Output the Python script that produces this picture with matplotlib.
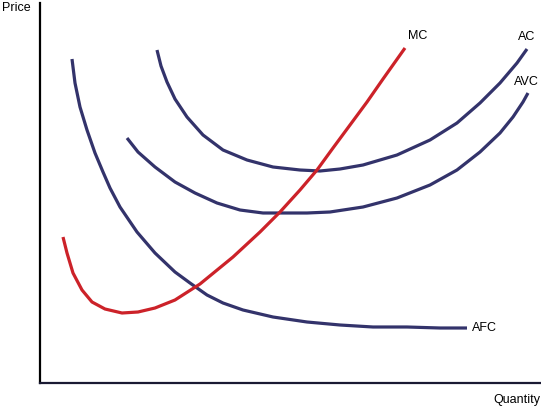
import matplotlib
matplotlib.use("Agg")
import matplotlib.pyplot as plt

plt.rcParams["font.family"] = ["Liberation Sans", "DejaVu Sans"]

# quantity / price (origin at the axes corner)
afc_q = [32, 35, 40, 47, 55, 63, 70, 80, 97, 115, 135, 150, 167, 183, 203, 233, 267, 300, 333, 367, 400, 427]
afc_p = [324, 300, 276, 253, 230, 211, 195, 176, 151, 130, 111, 100, 88, 80, 73, 66, 61, 58, 56, 56, 55, 55]

mc_q = [23, 27, 33, 42, 52, 65, 82, 98, 115, 135, 160, 193, 220, 240, 260, 277, 293, 310, 327, 343, 365]
mc_p = [146, 130, 110, 93, 81, 74, 70, 71, 75, 83, 99, 126, 151, 171, 193, 213, 235, 258, 281, 304, 335]

ac_q = [117, 121, 127, 135, 147, 163, 183, 207, 233, 260, 280, 300, 323, 357, 390, 417, 440, 460, 477, 487]
ac_p = [333, 317, 301, 284, 266, 248, 233, 223, 216, 213, 212, 214, 218, 228, 243, 260, 280, 300, 320, 334]

avc_q = [87, 98, 115, 135, 155, 177, 200, 223, 243, 267, 290, 323, 357, 390, 417, 440, 460, 473, 483, 488]
avc_p = [245, 231, 216, 201, 190, 180, 173, 170, 170, 170, 171, 176, 185, 198, 213, 231, 250, 266, 281, 290]

navy = "#33336b"
red = "#cc2229"

fig = plt.figure(figsize=(5.41, 4.08), dpi=100)
ax = fig.add_axes([40 / 541, 25 / 408, 501 / 541, 380 / 408])
ax.set_xlim(0, 501)
ax.set_ylim(0, 380)

style = dict(lw=2.3, solid_capstyle="butt", solid_joinstyle="round", clip_on=False)
ax.plot(afc_q, afc_p, color=navy, **style)
ax.plot(ac_q, ac_p, color=navy, **style)
ax.plot(avc_q, avc_p, color=navy, **style)
ax.plot(mc_q, mc_p, color=red, **style)

fs = 9
ax.text(368, 347, "MC", fontsize=fs, ha="left", va="center")
ax.text(478, 346, "AC", fontsize=fs, ha="left", va="center")
ax.text(474, 301, "AVC", fontsize=fs, ha="left", va="center")
ax.text(432, 55, "AFC", fontsize=fs, ha="left", va="center")
ax.text(500, -17, "Quantity", fontsize=fs, ha="right", va="center")
ax.text(-38, 375, "Price", fontsize=fs, ha="left", va="center")

for s in ["top", "right"]:
    ax.spines[s].set_visible(False)
ax.spines["left"].set_linewidth(1.6)
ax.spines["bottom"].set_linewidth(1.6)
ax.spines["left"].set_color("black")
ax.spines["bottom"].set_color("#1a1a33")
ax.set_xticks([])
ax.set_yticks([])

fig.savefig("out.png", dpi=100)
